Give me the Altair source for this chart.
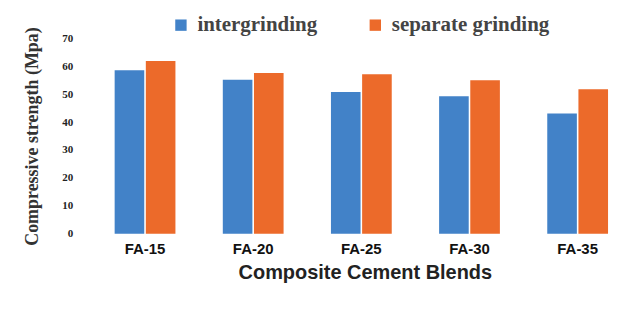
import altair as alt
import pandas as pd

blends = ["FA-15", "FA-20", "FA-25", "FA-30", "FA-35"]
intergrinding = [58.6, 55.2, 50.8, 49.3, 43.1]
separate = [61.9, 57.6, 57.1, 55.0, 51.8]
series = ["intergrinding", "separate grinding"]
y_ticks = [0, 10, 20, 30, 40, 50, 60, 70]

rows = []
for b, v1, v2 in zip(blends, intergrinding, separate):
    rows.append({"blend": b, "method": series[0], "value": v1})
    rows.append({"blend": b, "method": series[1], "value": v2})
df = pd.DataFrame(rows)

chart = alt.Chart(df).mark_bar().encode(
    x=alt.X("blend:N", sort=blends,
            scale=alt.Scale(paddingInner=0.438, paddingOuter=0, range=[24, 519]),
            axis=alt.Axis(title="Composite Cement Blends", labelAngle=0,
                          labelFont="Liberation Sans", labelFontSize=15,
                          labelFontWeight="bold", labelColor="#111",
                          titleFont="Liberation Sans", titleFontSize=20,
                          titleFontWeight="bold", titleColor="#222",
                          domain=False, ticks=False, labelPadding=8,
                          titlePadding=6, titleX=275)),
    xOffset=alt.XOffset("method:N", sort=series,
                        scale=alt.Scale(paddingInner=0.05)),
    y=alt.Y("value:Q", scale=alt.Scale(domain=[0, 70]),
            axis=alt.Axis(title="Compressive strength (Mpa)", values=y_ticks,
                          grid=False, domain=False, ticks=False,
                          labelFont="Liberation Serif", labelFontSize=11,
                          labelFontWeight="bold", labelColor="#222",
                          labelPadding=18,
                          titleFont="Liberation Serif", titleFontSize=18,
                          titleFontWeight="bold", titleColor="#333",
                          titlePadding=20)),
    color=alt.Color("method:N", sort=series,
                    scale=alt.Scale(domain=series, range=["#4282c8", "#ec6a2a"]),
                    legend=alt.Legend(title=None, orient="none", direction="horizontal",
                                      legendX=80, legendY=-24,
                                      symbolType="square", symbolSize=130,
                                      symbolStrokeWidth=0,
                                      labelFont="Liberation Serif", labelFontSize=21,
                                      labelFontWeight="bold",
                                      labelColor="#444", columnPadding=47,
                                      labelOffset=6)),
).properties(
    width=531, height=196,
    padding={"left": 16, "top": 6, "right": 0, "bottom": 5},
).configure_view(stroke=None)

chart.save("out.html", embed_options={"renderer": "svg", "actions": False})
